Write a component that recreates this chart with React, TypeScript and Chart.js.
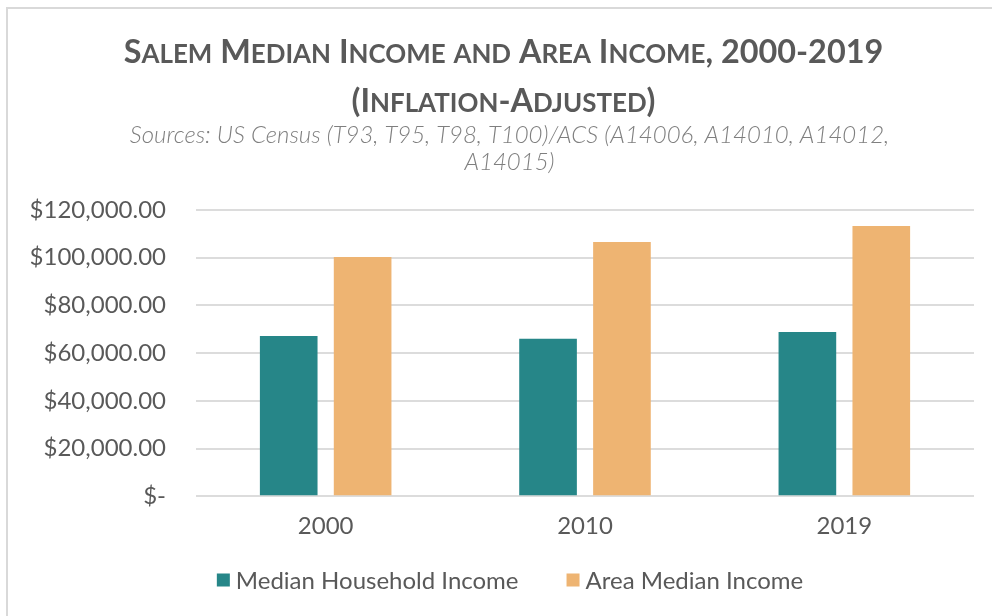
import React, { useEffect, useRef } from "react";
import { Chart, registerables } from "chart.js";

Chart.register(...registerables);

const categories = ["2000", "2010", "2019"];
const medianHousehold = [67200, 66000, 68800];
const areaMedian = [100300, 106600, 113300];
const titleLines = ["Salem Median Income and Area Income, 2000-2019", "(Inflation-Adjusted)"];
const subtitleLines = [
  "Sources: US Census (T93, T95, T98, T100)/ACS (A14006, A14010, A14012,",
  "A14015)",
];

function fmt(v: number) {
  if (v === 0) return "$-";
  return "$" + v.toLocaleString("en-US", { minimumFractionDigits: 2, maximumFractionDigits: 2 });
}

const TITLE_SIZE = 32.4;
const SMALL_RATIO = 0.8;

const smallCapsTitle = {
  id: "smallCapsTitle",
  afterDraw(chart: any) {
    const ctx = chart.ctx as CanvasRenderingContext2D;
    const cx = 503.5;
    const baselines = [63, 112];
    ctx.save();
    ctx.fillStyle = "#595959";
    ctx.textBaseline = "alphabetic";
    ctx.textAlign = "left";
    titleLines.forEach((line, i) => {
      const runs: { text: string; size: number }[] = [];
      for (const ch of line) {
        const isLower = ch !== ch.toUpperCase();
        const size = isLower ? TITLE_SIZE * SMALL_RATIO : TITLE_SIZE;
        const t = ch.toUpperCase();
        const last = runs[runs.length - 1];
        if (last && last.size === size) last.text += t;
        else runs.push({ text: t, size });
      }
      let total = 0;
      const widths = runs.map((r) => {
        ctx.font = `bold ${r.size}px Lato`;
        const w = ctx.measureText(r.text).width;
        total += w;
        return w;
      });
      let x = cx - total / 2;
      runs.forEach((r, j) => {
        ctx.font = `bold ${r.size}px Lato`;
        ctx.fillText(r.text, x, baselines[i]);
        x += widths[j];
      });
    });
    ctx.restore();
  },
};

const customLegend = {
  id: "customLegend",
  afterDraw(chart: any) {
    const ctx = chart.ctx as CanvasRenderingContext2D;
    const box = 13;
    const gapText = 6;
    const gapItem = 48;
    const cy = 580;
    const cx = 510;
    ctx.save();
    ctx.font = "24px Lato";
    ctx.textBaseline = "middle";
    ctx.textAlign = "left";
    const items = chart.data.datasets.map((d: any) => ({
      label: d.label as string,
      color: d.backgroundColor as string,
      w: ctx.measureText(d.label).width,
    }));
    let total = 0;
    items.forEach((it: any, i: number) => {
      total += box + gapText + it.w + (i < items.length - 1 ? gapItem : 0);
    });
    let x = cx - total / 2;
    items.forEach((it: any) => {
      ctx.fillStyle = it.color;
      ctx.fillRect(x, cy - box / 2, box, box);
      x += box + gapText;
      ctx.fillStyle = "#595959";
      ctx.fillText(it.label, x, cy + 1);
      x += it.w + gapItem;
    });
    ctx.restore();
  },
};

export default function App() {
  const ref = useRef<HTMLCanvasElement>(null);
  useEffect(() => {
    if (!ref.current) return;
    const chart = new Chart(ref.current, {
      type: "bar",
      data: {
        labels: categories,
        datasets: [
          {
            label: "Median Household Income",
            data: medianHousehold,
            backgroundColor: "#268688",
            barPercentage: 0.78,
            categoryPercentage: 0.57,
          },
          {
            label: "Area Median Income",
            data: areaMedian,
            backgroundColor: "#EEB472",
            barPercentage: 0.78,
            categoryPercentage: 0.57,
          },
        ],
      },
      plugins: [smallCapsTitle, customLegend],
      options: {
        animation: false,
        responsive: false,
        devicePixelRatio: 1,
        layout: { padding: { left: 31, right: 4, top: 121.5, bottom: 59 } },
        plugins: {
          title: { display: false },
          subtitle: {
            display: true,
            text: subtitleLines,
            color: "#7f7f7f",
            font: { family: "Lato", size: 24, weight: 300, style: "italic", lineHeight: 1.125 },
            padding: { top: 0, bottom: 34.5 },
          },
          legend: { display: false },
          tooltip: { enabled: false },
        },
        scales: {
          x: {
            grid: { display: false, drawTicks: false },
            border: { display: false },
            ticks: { color: "#595959", font: { family: "Lato", size: 24 }, padding: 16 },
          },
          y: {
            min: 0,
            max: 120000,
            grid: { color: "#dcdcdc", lineWidth: 2, drawTicks: false },
            border: { display: false },
            ticks: {
              stepSize: 20000,
              color: "#595959",
              font: { family: "Lato", size: 24 },
              padding: 30,
              callback: (v: any) => fmt(Number(v)),
            },
            afterFit: (s: any) => {
              s.width = 165;
            },
          },
          y2: {
            position: "right",
            display: true,
            grid: { display: false, drawTicks: false },
            border: { display: false },
            ticks: { display: false },
            afterFit: (s: any) => {
              s.width = 14;
            },
          },
        },
      },
    });
    return () => chart.destroy();
  }, []);
  return (
    <>
      <div
        style={{
          position: "fixed",
          left: 6,
          top: 7,
          width: 1100,
          height: 700,
          border: "2px solid #d9d9d9",
          background: "#fff",
        }}
      />
      <canvas
        ref={ref}
        width={992}
        height={616}
        style={{ position: "fixed", left: 0, top: 0, width: 992, height: 616 }}
      />
    </>
  );
}
